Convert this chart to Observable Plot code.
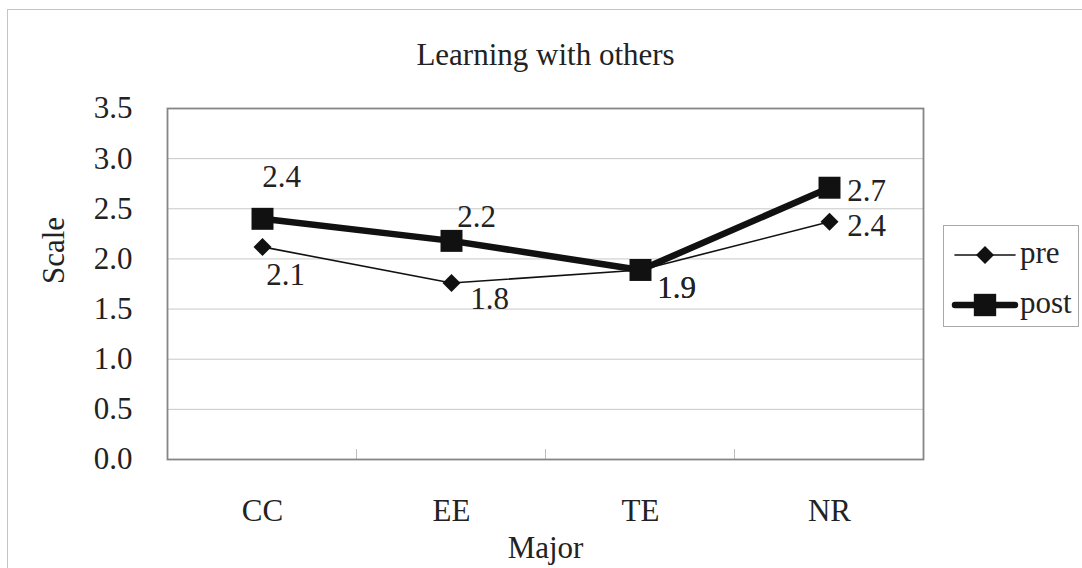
<!DOCTYPE html>
<html><head><meta charset="utf-8">
<script src="https://cdn.jsdelivr.net/npm/d3@7"></script>
<script src="https://cdn.jsdelivr.net/npm/@observablehq/plot@0.6"></script>
<style>
body{margin:0;background:#fff;font-family:"Liberation Serif","Times New Roman",serif;}
#wrap{position:relative;width:1082px;height:568px;overflow:hidden;background:#fff;}
#border{position:absolute;left:7px;top:9px;width:1100px;height:620px;border:1px solid #c4c4c4;box-sizing:border-box;}
#chart{position:absolute;left:0;top:0;}
#legend{position:absolute;left:943px;top:225px;width:136px;height:102px;border:1px solid #a8a8a8;box-sizing:border-box;background:#fff;}
</style>
</head><body>
<div id="wrap"><div id="border"></div><div id="chart"></div><div id="legend"></div></div>
<script>
// ---- data ----
const title = "Learning with others";
const categories = ["CC", "EE", "TE", "NR"];
const preValues = [2.12, 1.76, 1.89, 2.37];
const postValues = [2.40, 2.18, 1.89, 2.71];
const preLabels = ["2.1", "1.8", "1.9", "2.4"];
const postLabels = ["2.4", "2.2", "1.9", "2.7"];
const yTicks = [0, 0.5, 1.0, 1.5, 2.0, 2.5, 3.0, 3.5];
const xTitle = "Major";
const yTitle = "Scale";
const seriesNames = ["pre", "post"];

// ---- styling (label offsets relative to points) ----
const preOffsets = [[23, 28], [38, 16], [36, 18], [37, 4]];
const postOffsets = [[19, -42], [25, -24], [36, 18], [37, 3]];
const FONT = 31;

const pre = categories.map((c, i) => ({cat: c, v: preValues[i], label: preLabels[i], dx: preOffsets[i][0], dy: preOffsets[i][1]}));
const post = categories.map((c, i) => ({cat: c, v: postValues[i], label: postLabels[i], dx: postOffsets[i][0], dy: postOffsets[i][1]}));

function labelMarks(data) {
  return data.map(d => Plot.text([d], {x: "cat", y: "v", text: "label", dx: d.dx, dy: d.dy,
    fontSize: FONT, fill: "#222", lineAnchor: "middle", textAnchor: "middle"}));
}

const separators = (index, scales, values, dims) => {
  const g = d3.create("svg:g");
  const xs = categories.map(c => scales.x(c));
  const bottom = dims.height - dims.marginBottom;
  for (let i = 0; i < xs.length - 1; i++) {
    const xm = (xs[i] + xs[i + 1]) / 2;
    g.append("line").attr("x1", xm).attr("x2", xm).attr("y1", bottom - 10).attr("y2", bottom)
      .attr("stroke", "#bdbdbd").attr("stroke-width", 1);
  }
  return g.node();
};

const chart = Plot.plot({
  width: 1082,
  height: 568,
  marginLeft: 167,
  marginRight: 159,
  marginTop: 108,
  marginBottom: 109,
  style: {fontFamily: '"Liberation Serif","Times New Roman",serif', background: "transparent", overflow: "visible"},
  x: {type: "point", domain: categories, padding: 0.5, axis: null},
  y: {domain: [0, 3.5], axis: null},
  marks: [
    Plot.ruleY(yTicks.filter(t => t > 0 && t < 3.5), {stroke: "#c8c8c8", strokeWidth: 1}),
    separators,
    Plot.frame({stroke: "#868686", strokeWidth: 1.8}),
    Plot.axisY(yTicks, {tickSize: 0, tickPadding: 35, fontSize: FONT, fill: "#222", tickFormat: d => d.toFixed(1), label: null}),
    Plot.text(categories, {x: d => d, frameAnchor: "bottom", dy: 52, fontSize: FONT, fill: "#222", lineAnchor: "middle"}),
    Plot.text([xTitle], {frameAnchor: "bottom", dy: 89, fontSize: FONT, fill: "#222", lineAnchor: "middle"}),
    Plot.text([yTitle], {frameAnchor: "left", dx: -113, rotate: -90, fontSize: FONT, fill: "#222", lineAnchor: "middle"}),
    Plot.text([title], {frameAnchor: "top", dy: -53, fontSize: FONT, fill: "#222", lineAnchor: "middle"}),
    Plot.line(pre, {x: "cat", y: "v", stroke: "#111", strokeWidth: 1.6}),
    Plot.line(post, {x: "cat", y: "v", stroke: "#111", strokeWidth: 6.5}),
    Plot.dot(pre, {x: "cat", y: "v", symbol: "diamond2", r: 8.1, fill: "#111", stroke: "none"}),
    Plot.dot(post, {x: "cat", y: "v", symbol: "square", r: 12.4, fill: "#111", stroke: "none"}),
    ...labelMarks(pre),
    ...labelMarks(post)
  ]
});
document.getElementById("chart").appendChild(chart);

// ---- legend ----
const leg = d3.select("#legend").append("svg").attr("width", 134).attr("height", 100)
  .style("font-family", '"Liberation Serif","Times New Roman",serif');
const legendStyles = [
  {w: 1.6, sym: d3.symbol(d3.symbolDiamond2, 206)},
  {w: 6.5, sym: d3.symbol(d3.symbolSquare, 500)}
];
seriesNames.forEach((name, i) => {
  const cy = 29 + i * 50;
  const st = legendStyles[i];
  leg.append("line").attr("x1", 11).attr("x2", 71).attr("y1", cy).attr("y2", cy)
    .attr("stroke", "#111").attr("stroke-width", st.w).attr("stroke-linecap", "round");
  leg.append("path").attr("d", st.sym()).attr("transform", `translate(41,${cy})`).attr("fill", "#111");
  leg.append("text").attr("x", 76).attr("y", cy + 8).attr("font-size", FONT).attr("fill", "#222").text(name);
});
</script>
</body></html>
